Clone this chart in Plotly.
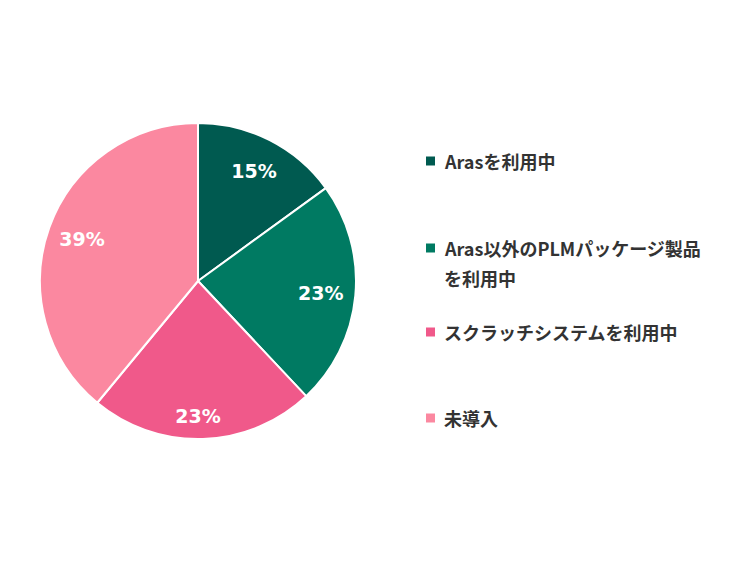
import plotly.graph_objects as go

labels = ["Arasを利用中", "Aras以外のPLMパッケージ製品を利用中", "スクラッチシステムを利用中", "未導入"]
legend_lines = [["Arasを利用中"], ["Aras以外のPLMパッケージ製品", "を利用中"], ["スクラッチシステムを利用中"], ["未導入"]]
values = [15, 23, 23, 39]
colors = ["#005a50", "#007a62", "#f0598a", "#fb88a0"]

W, H = 750, 562
OFF = 8  # page body margin
cx, cy, R = 198 - OFF, 281 - OFF, 158
dom = dict(x=[(cx - R) / W, (cx + R) / W], y=[(H - cy - R) / H, (H - cy + R) / H])

fig = go.Figure()
fig.add_trace(go.Pie(
    labels=labels, values=values, sort=False, direction="clockwise", rotation=0,
    marker=dict(colors=colors, line=dict(color="white", width=2)),
    textinfo="none", domain=dom, showlegend=False, hoverinfo="label+percent",
))
# transparent rings carrying the percentage labels
label_ring = [0.56, 0.56, 0.74, 0.56]
for hole in sorted(set(label_ring)):
    tmpl = ["%{value}%" if h == hole else "" for h in label_ring]
    fig.add_trace(go.Pie(
        labels=labels, values=values, sort=False, direction="clockwise", rotation=0, hole=hole,
        marker=dict(colors=["rgba(0,0,0,0)"] * len(values), line=dict(width=0)),
        texttemplate=tmpl, textposition="inside", insidetextorientation="horizontal",
        textfont=dict(color="white", size=19, family="DejaVu Sans, sans-serif", weight="bold"),
        domain=dom, showlegend=False, hoverinfo="skip",
    ))

# custom legend
item_tops = [161, 248, 332, 418]
annotations = []
shapes = []
for lines, c, ty in zip(legend_lines, colors, item_tops):
    ty = ty - OFF
    shapes.append(dict(type="rect", xref="paper", yref="paper",
                       x0=(426 - OFF) / W, x1=(435 - OFF) / W, y0=1 - (ty + 4.5) / H, y1=1 - (ty - 4.5) / H,
                       fillcolor=c, line=dict(width=0)))
    for k, line in enumerate(lines):
        annotations.append(dict(text=f"<b>{line}</b>", xref="paper", yref="paper",
                                x=(442 - OFF) / W, y=1 - (ty + 30 * k) / H, xanchor="left", yanchor="middle",
                                showarrow=False,
                                font=dict(size=18, color="#333333", family="Noto Sans CJK JP")))

fig.update_layout(width=W, height=H, margin=dict(l=0, r=0, t=0, b=0),
                  paper_bgcolor="white", plot_bgcolor="white",
                  annotations=annotations, shapes=shapes)
fig.write_html("out.html")
